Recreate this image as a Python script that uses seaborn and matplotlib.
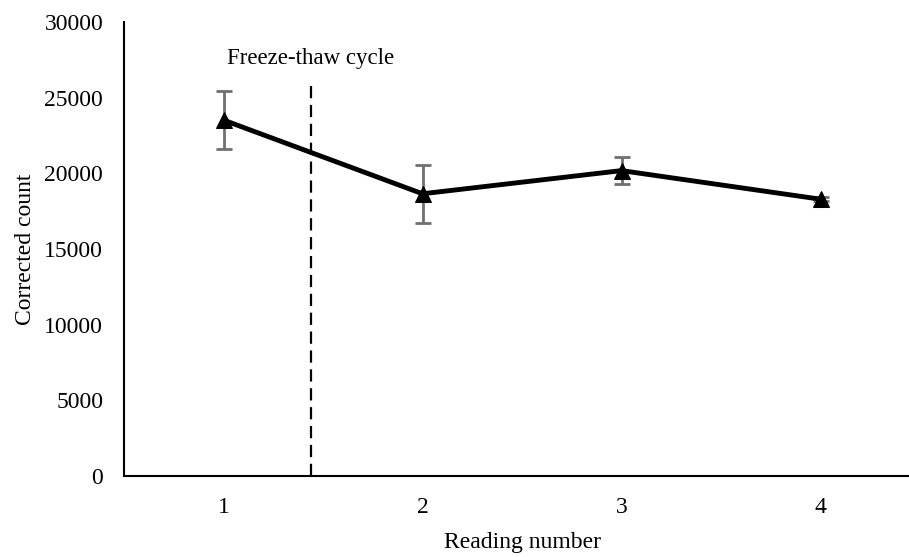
import matplotlib
matplotlib.use("Agg")
import matplotlib.pyplot as plt
import seaborn as sns
import pandas as pd

readings = [1, 2, 3, 4]
counts = [23520, 18650, 20180, 18290]
errors = [1940, 1900, 880, 150]
tick_labels = ["1", "2", "3", "4"]
y_ticks = [0, 5000, 10000, 15000, 20000, 25000, 30000]
event_x = 1.44
event_label = "Freeze-thaw cycle"

sns.set_theme(style="white")
plt.rcParams['font.family'] = ['Liberation Serif', 'DejaVu Serif']

W, H = 909, 557
fig = plt.figure(figsize=(W / 100, H / 100), dpi=100)
ax = fig.add_axes([124 / W, (H - 476) / H, 796 / W, 454 / H])

df = pd.DataFrame({"reading": readings, "count": counts, "err": errors})

ax.errorbar(df["reading"], df["count"], yerr=df["err"], fmt="none",
            ecolor="#707070", elinewidth=2, capsize=6, capthick=2, zorder=2)
sns.lineplot(data=df, x="reading", y="count", ax=ax, color="black",
             linewidth=3.5, marker="^", markersize=11, markeredgecolor="black",
             zorder=3)

ax.vlines(event_x, 0, 26000, colors="black", linestyles=(0, (5.5, 3)), linewidth=1.6, zorder=1)
ax.text(event_x, 27600, event_label, ha="center", va="center", fontsize=16.5, color="black")

ax.set_xlim(0.5, 4.5)
ax.set_ylim(0, 30000)
ax.set_xticks(readings)
ax.set_xticklabels(tick_labels)
ax.set_yticks(y_ticks)
ax.tick_params(axis="both", length=0, labelsize=17, colors="black")
ax.tick_params(axis="x", pad=15)
ax.tick_params(axis="y", pad=15)

for s in ["top", "right"]:
    ax.spines[s].set_visible(False)
for s in ["left", "bottom"]:
    ax.spines[s].set_color("black")
    ax.spines[s].set_linewidth(1.5)

ax.set_xlabel("Reading number", fontsize=17, color="black", labelpad=10)
ax.set_ylabel("Corrected count", fontsize=17, color="black", labelpad=6)

fig.savefig("out.png", dpi=100)
